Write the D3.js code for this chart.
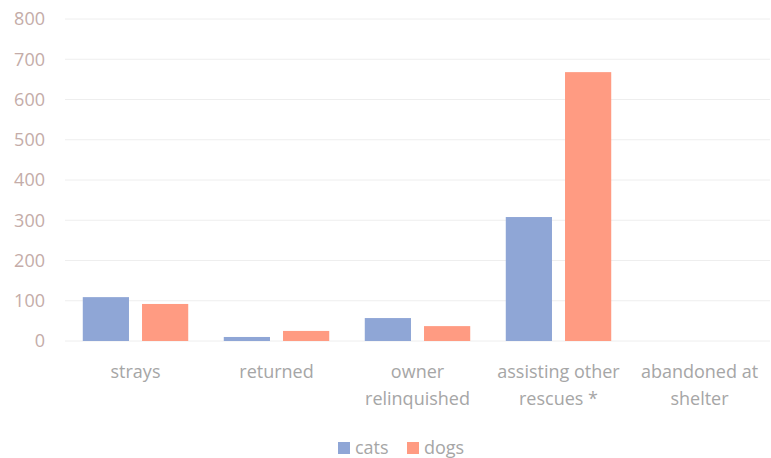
<!DOCTYPE html>
<html>
<head>
<meta charset="utf-8">
<script src="https://cdn.jsdelivr.net/npm/d3@7"></script>
<style>
  body { margin: 0; background: #fff; }
  svg text { font-family: "Open Sans", sans-serif; }
</style>
</head>
<body>
<div id="chart"></div>
<script>
// Chart data
const categories = [
  ["strays"],
  ["returned"],
  ["owner", "relinquished"],
  ["assisting other", "rescues *"],
  ["abandoned at", "shelter"]
]
const seriesNames = ["cats", "dogs"]
const cats = [109, 10, 57, 308, 0]
const dogs = [92, 25, 37, 668, 0]
const yTicks = [0, 100, 200, 300, 400, 500, 600, 700, 800]

const colors = { cats: "#8fa6d6", dogs: "#ff9b82" }

const width = 771
const height = 458
const margin = { top: 19, right: 1, bottom: 117, left: 65 }

const svg = d3.select("#chart")
  .append("svg")
  .attr("width", width)
  .attr("height", height)

const chartWidth = width - margin.left - margin.right
const chartHeight = height - margin.top - margin.bottom

const g = svg.append("g")
  .attr("transform", `translate(${margin.left},${margin.top})`)

const x = d3.scaleBand()
  .domain(d3.range(categories.length))
  .range([0, chartWidth])

const x1 = d3.scaleBand()
  .domain(seriesNames)
  .range([0, x.bandwidth()])
  .paddingInner(0.22)
  .paddingOuter(0.3)

const y = d3.scaleLinear()
  .domain([0, 800])
  .range([chartHeight, 0])

// Gridlines
g.append("g")
  .selectAll("line")
  .data(yTicks)
  .join("line")
  .attr("x1", 0)
  .attr("x2", chartWidth)
  .attr("y1", d => y(d))
  .attr("y2", d => y(d))
  .attr("stroke", "#eeeeee")
  .attr("stroke-width", 1)

// Y axis labels
const yAxis = g.append("g")
  .call(d3.axisLeft(y).tickValues(yTicks).tickSize(0).tickPadding(20))
yAxis.select(".domain").remove()
yAxis.selectAll("text")
  .attr("fill", "#c4aca8")
  .attr("font-size", "18px")
  .style("font-family", "Open Sans, sans-serif")

// Bars
const rows = categories.map((c, i) => ({ i, cats: cats[i], dogs: dogs[i] }))

g.append("g")
  .selectAll("g")
  .data(rows)
  .join("g")
  .attr("transform", d => `translate(${x(d.i)},0)`)
  .selectAll("rect")
  .data(d => seriesNames.map(s => ({ s, v: d[s] })))
  .join("rect")
  .attr("x", d => x1(d.s))
  .attr("width", x1.bandwidth())
  .attr("y", d => y(d.v))
  .attr("height", d => chartHeight - y(d.v))
  .attr("fill", d => colors[d.s])

// X labels
const xl = g.append("g")
  .selectAll("text")
  .data(categories)
  .join("text")
  .attr("x", (d, i) => x(i) + x.bandwidth() / 2)
  .attr("y", chartHeight + 37)
  .attr("text-anchor", "middle")
  .attr("fill", "#a6a6a6")
  .attr("font-size", "18px")

xl.selectAll("tspan")
  .data(d => d)
  .join("tspan")
  .attr("x", function () { return d3.select(this.parentNode).attr("x") })
  .attr("dy", (d, i) => i === 0 ? 0 : 27)
  .text(d => d)

// Legend
const legend = svg.append("g")
  .attr("transform", `translate(338,448)`)

const items = legend.selectAll("g")
  .data(seriesNames)
  .join("g")
  .attr("transform", (d, i) => `translate(${i * 69},0)`)

items.append("rect")
  .attr("x", 0)
  .attr("y", -6)
  .attr("width", 12)
  .attr("height", 12)
  .attr("fill", d => colors[d])

items.append("text")
  .attr("x", 17)
  .attr("y", 6)
  .attr("fill", "#a6a6a6")
  .attr("font-size", "18px")
  .text(d => d)
</script>
</body>
</html>
